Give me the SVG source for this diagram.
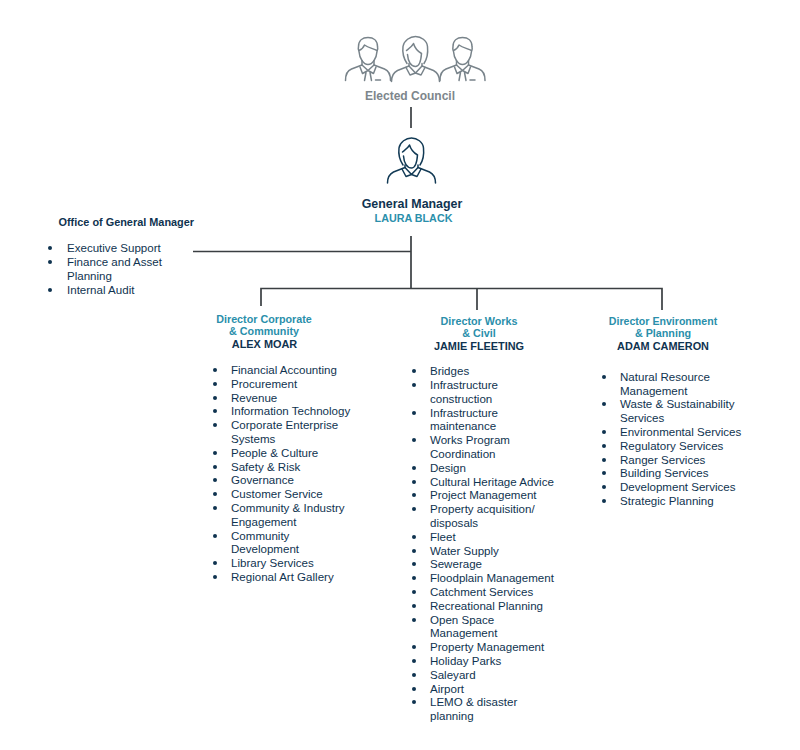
<svg xmlns="http://www.w3.org/2000/svg" width="800" height="750" viewBox="0 0 800 750">
<style>
text{font-family:"Liberation Sans",Arial,sans-serif;font-size:11.55px;fill:#0f3350}
.b{font-weight:700;font-size:10.9px}
.c{text-anchor:middle}
.t{fill:#2a8fab;font-weight:700;font-size:10.75px}
.g{fill:#7d868c;font-weight:700;font-size:12px}
.ic{fill:none;stroke-width:1.5;stroke-linecap:round;stroke-linejoin:round}
.gr{stroke:#78838a}
.nv{stroke:#123a55}
.ln{fill:none;stroke:#3a3f42;stroke-width:1.7}
circle{fill:#0f3350}
</style>
<defs>
<g id="man">
<path d="M4 9C4 3 8 0 13.500 0S23 3 23 9C23.500 11 23 13 22.500 14C22 21 18 27 13.500 27S5 21 4.500 14C4 13 3.500 11 4 9Z"/>
<path d="M4.500 13C7 12 9 10 10 7.500C13.500 10 18 11 22.500 13"/>
<path d="M7.500 23V27.500L-3 31.500C-7 33-9 37-9 43M19.500 23V27.500L30 31.500C34 33 36 37 36 43"/>
<path d="M7.500 27.500L13.500 33L19.500 27.500M5.500 29.500L8 36L13.500 33L19 36L21.500 29.500M11.500 35L10 43M15.500 35L17 43M21 42.500H26"/>
</g>
<g id="woman">
<path d="M0 26C-4 20-4.500 13-4 9C-3 3 3-1 8.500-1C14-1 20 3 20.500 9C21 14 21 20 17 26"/>
<path d="M-.5 13C2 11 5 9 6.500 6C8 11 11 14 14.500 16C14 23 12 29 8.500 29C4 29 1 24 .5 17"/>
<path d="M2 26V28.500L-9.500 33C-13.500 35-15.500 38-15.500 44M15 26V28.500L26.500 33C30.500 35 32.500 38 32.500 44"/>
<path d="M2 28.500L8.500 35.500L15 28.500M-1 30L3 37.500L8.500 35.500L14 37.500L18 30"/>
</g>
</defs>
<g id="elected-council">
<use href="#man" x="354.500" y="37.500" class="ic gr"/>
<use href="#woman" x="407" y="37.500" class="ic gr"/>
<use href="#man" x="449" y="37.500" class="ic gr"/>
<text x="410" y="100" class="g c">Elected Council</text>
</g>
<g id="general-manager">
<use href="#woman" x="403" y="139" class="ic nv"/>
<text x="412" y="208" class="c" style="font-size:12.4px;font-weight:700">General Manager</text>
<text x="413.500" y="222" class="t c">LAURA BLACK</text>
</g>
<g id="connectors">
<path class="ln" d="M411 107V128M411 236V288M193 251.500H411M261 306V288.500H662V310M477 288.500V310"/>
</g>
<g id="office">
<text x="58.500" y="226" class="b">Office of General Manager</text>
<g id="office-list">
<circle cx="50" cy="248" r="2"/><text x="67" y="252">Executive Support</text>
<circle cx="50" cy="262" r="2"/><text x="67" y="266">Finance and Asset</text><text x="67" y="280">Planning</text>
<circle cx="50" cy="290" r="2"/><text x="67" y="294">Internal Audit</text>
</g>
</g>
<g id="director-corporate">
<text x="264" y="323" class="t c">Director Corporate</text>
<text x="264" y="335" class="t c">&amp; Community</text>
<text x="264.500" y="348" class="b c">ALEX MOAR</text>
<g>
<circle cx="215" cy="370" r="2"/><text x="231" y="374">Financial Accounting</text>
<circle cx="215" cy="384" r="2"/><text x="231" y="388">Procurement</text>
<circle cx="215" cy="398" r="2"/><text x="231" y="402">Revenue</text>
<circle cx="215" cy="411" r="2"/><text x="231" y="415">Information Technology</text>
<circle cx="215" cy="425" r="2"/><text x="231" y="429">Corporate Enterprise</text><text x="231" y="443">Systems</text>
<circle cx="215" cy="453" r="2"/><text x="231" y="457">People &amp; Culture</text>
<circle cx="215" cy="467" r="2"/><text x="231" y="471">Safety &amp; Risk</text>
<circle cx="215" cy="480" r="2"/><text x="231" y="484">Governance</text>
<circle cx="215" cy="494" r="2"/><text x="231" y="498">Customer Service</text>
<circle cx="215" cy="508" r="2"/><text x="231" y="512">Community &amp; Industry</text><text x="231" y="526">Engagement</text>
<circle cx="215" cy="536" r="2"/><text x="231" y="540">Community</text><text x="231" y="553">Development</text>
<circle cx="215" cy="563" r="2"/><text x="231" y="567">Library Services</text>
<circle cx="215" cy="577" r="2"/><text x="231" y="581">Regional Art Gallery</text>
</g>
</g>
<g id="director-works">
<text x="479" y="325" class="t c">Director Works</text>
<text x="479" y="337" class="t c">&amp; Civil</text>
<text x="479" y="350" class="b c">JAMIE FLEETING</text>
<g>
<circle cx="414" cy="371" r="2"/><text x="430" y="375">Bridges</text>
<circle cx="414" cy="385" r="2"/><text x="430" y="389">Infrastructure</text><text x="430" y="403">construction</text>
<circle cx="414" cy="413" r="2"/><text x="430" y="417">Infrastructure</text><text x="430" y="430">maintenance</text>
<circle cx="414" cy="440" r="2"/><text x="430" y="444">Works Program</text><text x="430" y="458">Coordination</text>
<circle cx="414" cy="468" r="2"/><text x="430" y="472">Design</text>
<circle cx="414" cy="482" r="2"/><text x="430" y="486">Cultural Heritage Advice</text>
<circle cx="414" cy="495" r="2"/><text x="430" y="499">Project Management</text>
<circle cx="414" cy="509" r="2"/><text x="430" y="513">Property acquisition/</text><text x="430" y="527">disposals</text>
<circle cx="414" cy="537" r="2"/><text x="430" y="541">Fleet</text>
<circle cx="414" cy="551" r="2"/><text x="430" y="555">Water Supply</text>
<circle cx="414" cy="564" r="2"/><text x="430" y="568">Sewerage</text>
<circle cx="414" cy="578" r="2"/><text x="430" y="582">Floodplain Management</text>
<circle cx="414" cy="592" r="2"/><text x="430" y="596">Catchment Services</text>
<circle cx="414" cy="606" r="2"/><text x="430" y="610">Recreational Planning</text>
<circle cx="414" cy="620" r="2"/><text x="430" y="624">Open Space</text><text x="430" y="637">Management</text>
<circle cx="414" cy="647" r="2"/><text x="430" y="651">Property Management</text>
<circle cx="414" cy="661" r="2"/><text x="430" y="665">Holiday Parks</text>
<circle cx="414" cy="675" r="2"/><text x="430" y="679">Saleyard</text>
<circle cx="414" cy="689" r="2"/><text x="430" y="693">Airport</text>
<circle cx="414" cy="702" r="2"/><text x="430" y="706">LEMO &amp; disaster</text><text x="430" y="720">planning</text>
</g>
</g>
<g id="director-environment">
<text x="663" y="325" class="t c" style="font-size:10.6px">Director Environment</text>
<text x="663" y="337" class="t c">&amp; Planning</text>
<text x="663" y="350" class="b c">ADAM CAMERON</text>
<g>
<circle cx="604" cy="377" r="2"/><text x="620" y="381">Natural Resource</text><text x="620" y="395">Management</text>
<circle cx="604" cy="404" r="2"/><text x="620" y="408">Waste &amp; Sustainability</text><text x="620" y="422">Services</text>
<circle cx="604" cy="432" r="2"/><text x="620" y="436">Environmental Services</text>
<circle cx="604" cy="446" r="2"/><text x="620" y="450">Regulatory Services</text>
<circle cx="604" cy="460" r="2"/><text x="620" y="464">Ranger Services</text>
<circle cx="604" cy="473" r="2"/><text x="620" y="477">Building Services</text>
<circle cx="604" cy="487" r="2"/><text x="620" y="491">Development Services</text>
<circle cx="604" cy="501" r="2"/><text x="620" y="505">Strategic Planning</text>
</g>
</g>
</svg>
